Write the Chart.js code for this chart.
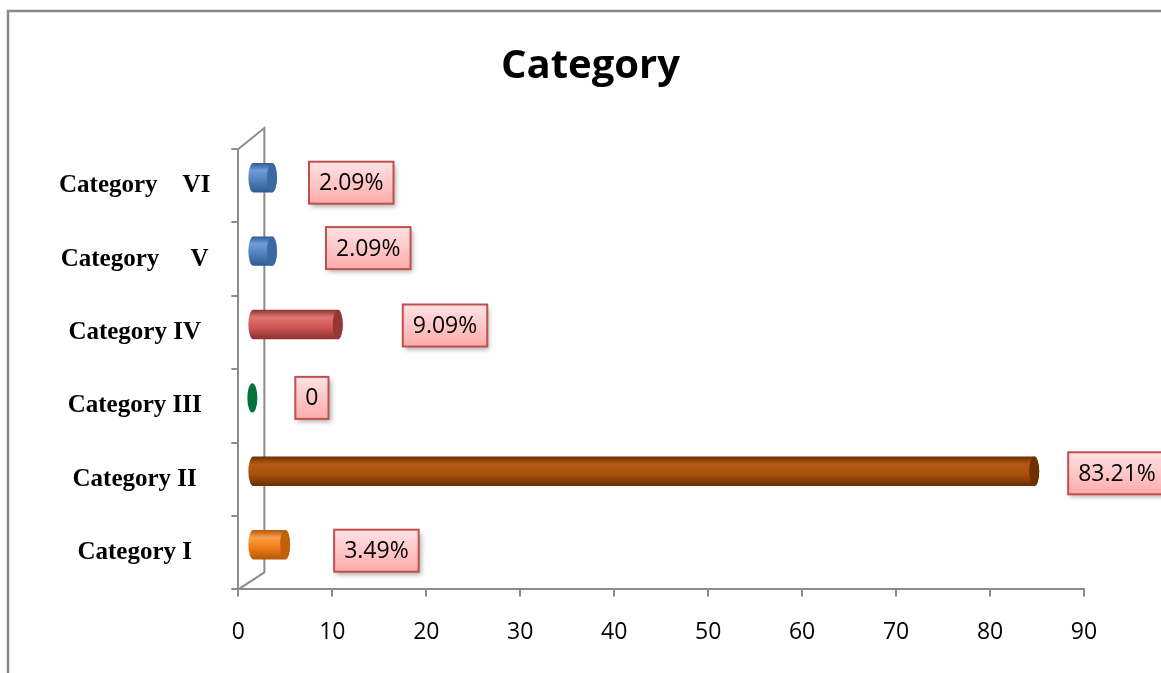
<!DOCTYPE html>
<html>
<head>
<meta charset="utf-8">
<script src="https://cdn.jsdelivr.net/npm/chart.js@4.4.1/dist/chart.umd.min.js"></script>
<style>
  html, body { margin: 0; padding: 0; background: #fff; }
  canvas { display: block; }
</style>
</head>
<body>
<canvas id="barChart" width="1161" height="673"></canvas>
<script>
// du lieu bieu do (tu duoi len tren)
const categories = ["Category I", "Category II", "Category III", "Category IV", "Category     V", "Category    VI"];
const values = [3.49, 83.21, 0, 9.09, 2.09, 2.09];
const valueLabels = ["3.49%", "83.21%", "0", "9.09%", "2.09%", "2.09%"];
const xTicks = [0, 10, 20, 30, 40, 50, 60, 70, 80, 90];

// mau cho tung thanh (tru tron)
const barColors = [
  { main: "#f07c16", light: "#fa9c4c", dark: "#b55806", cap: "#c0600a" },
  { main: "#a9500c", light: "#b35a12", dark: "#6a2f00", cap: "#6e3000" },
  { main: "#00773c", light: "#00773c", dark: "#00602f", cap: "#00723a" },
  { main: "#cd5552", light: "#e07472", dark: "#8c3230", cap: "#953835" },
  { main: "#4f81bd", light: "#6f9ddb", dark: "#2f5a90", cap: "#3a69a3" },
  { main: "#4f81bd", light: "#6f9ddb", dark: "#2f5a90", cap: "#3a69a3" },
];

const axisGray = "#8c8c8c";

function drawCylinder(ctx, x0, x1, yc, h, rx, c) {
  const top = yc - h / 2;
  const bot = yc + h / 2;
  const ry = h / 2;
  if (x1 > x0) {
    const g = ctx.createLinearGradient(0, top, 0, bot);
    g.addColorStop(0, c.dark);
    g.addColorStop(0.25, c.light);
    g.addColorStop(0.6, c.main);
    g.addColorStop(1, c.dark);
    ctx.beginPath();
    ctx.moveTo(x0, top);
    ctx.lineTo(x1, top);
    ctx.ellipse(x1, yc, rx, ry, 0, -Math.PI / 2, Math.PI / 2);
    ctx.lineTo(x0, bot);
    ctx.ellipse(x0, yc, rx, ry, 0, Math.PI / 2, Math.PI * 1.5);
    ctx.closePath();
    ctx.fillStyle = g;
    ctx.fill();
  }
  ctx.beginPath();
  ctx.ellipse(x1, yc, rx, ry, 0, 0, Math.PI * 2);
  ctx.fillStyle = c.cap;
  ctx.fill();
}

const frame3d = {
  id: "frame3d",
  beforeDraw(chart) {
    const ctx = chart.ctx;
    ctx.save();
    ctx.fillStyle = "#fff";
    ctx.fillRect(0, 0, chart.width, chart.height);
    // khung ngoai
    ctx.strokeStyle = "#8a8a8a";
    ctx.lineWidth = 2.5;
    ctx.strokeRect(8, 11, chart.width + 20, chart.height + 20);
    // tieu de
    ctx.fillStyle = "#000";
    ctx.font = "bold 40px 'Open Sans'";
    ctx.textAlign = "center";
    ctx.textBaseline = "alphabetic";
    ctx.fillText("Category", chart.width / 2 + 10, 78);
    ctx.restore();
  },
  afterDraw(chart, args, opts) {
    const ctx = chart.ctx;
    const a = chart.chartArea;
    const d = opts.depth;
    ctx.save();
    // tuong sau
    ctx.strokeStyle = axisGray;
    ctx.lineWidth = 2;
    ctx.beginPath();
    ctx.moveTo(a.left, a.top);
    ctx.lineTo(a.left + d.x, a.top - d.y);
    ctx.lineTo(a.left + d.x, a.bottom - d.y + 4);
    ctx.lineTo(a.left, a.bottom);
    ctx.stroke();

    // thanh tru tron
    const meta = chart.getDatasetMeta(0);
    meta.data.forEach((bar, i) => {
      const x0 = bar.base + opts.shiftX;
      const x1 = bar.x + opts.shiftX;
      const yc = bar.y - opts.shiftY;
      drawCylinder(ctx, x0, x1, yc, bar.height, opts.capRx, barColors[i]);
    });

    // nhan gia tri
    ctx.font = "23px 'Open Sans'";
    ctx.textAlign = "center";
    ctx.textBaseline = "middle";
    meta.data.forEach((bar, i) => {
      const txt = valueLabels[i];
      const w = ctx.measureText(txt).width + 20;
      const h = 42;
      const left = bar.x + opts.shiftX + opts.capRx + opts.gap[i];
      const cy = bar.y - opts.shiftY + opts.nudge[i];
      const top = cy - h / 2;
      ctx.save();
      ctx.shadowColor = "rgba(0,0,0,0.35)";
      ctx.shadowBlur = 5;
      ctx.shadowOffsetX = 2;
      ctx.shadowOffsetY = 3;
      const g = ctx.createLinearGradient(0, top, 0, top + h);
      g.addColorStop(0, "#ffe3e3");
      g.addColorStop(1, "#ffabab");
      ctx.fillStyle = g;
      ctx.fillRect(left, top, w, h);
      ctx.restore();
      ctx.strokeStyle = "#c0504d";
      ctx.lineWidth = 2;
      ctx.strokeRect(left, top, w, h);
      ctx.fillStyle = "#000";
      ctx.fillText(txt, left + w / 2, cy + 1);
    });
    ctx.restore();
  },
};

new Chart(document.getElementById("barChart"), {
  type: "bar",
  data: {
    labels: categories,
    datasets: [
      {
        data: values,
        backgroundColor: "rgba(0,0,0,0)",
        borderWidth: 0,
        barPercentage: 0.4,
        categoryPercentage: 1.0,
      },
    ],
  },
  options: {
    indexAxis: "y",
    responsive: false,
    animation: false,
    devicePixelRatio: 1,
    layout: { padding: { left: 38, right: 77, top: 149, bottom: 5 } },
    plugins: {
      legend: { display: false },
      title: { display: false },
      tooltip: { enabled: false },
      frame3d: {
        depth: { x: 26, y: 21 },
        shiftX: 14,
        shiftY: 8,
        capRx: 5,
        gap: [44, 29, 38, 60, 49, 32],
        nudge: [6, 2, 0, 1, -3, 5],
      },
    },
    scales: {
      x: {
        min: xTicks[0],
        max: xTicks[xTicks.length - 1],
        ticks: {
          stepSize: 10,
          color: "#000",
          padding: 22,
          font: { family: "'Open Sans'", size: 23 },
        },
        grid: { drawOnChartArea: false, tickLength: 7, color: axisGray, lineWidth: 2 },
        border: { color: axisGray, width: 2 },
      },
      y: {
        reverse: true,
        ticks: {
          crossAlign: "center",
          padding: 21,
          color: "#000",
          font: { family: "'Liberation Serif'", size: 25, weight: "bold" },
        },
        grid: { drawOnChartArea: false, offset: true, tickLength: 7, color: axisGray, lineWidth: 2 },
        border: { color: axisGray, width: 2 },
      },
    },
  },
  plugins: [frame3d],
});
</script>
</body>
</html>
